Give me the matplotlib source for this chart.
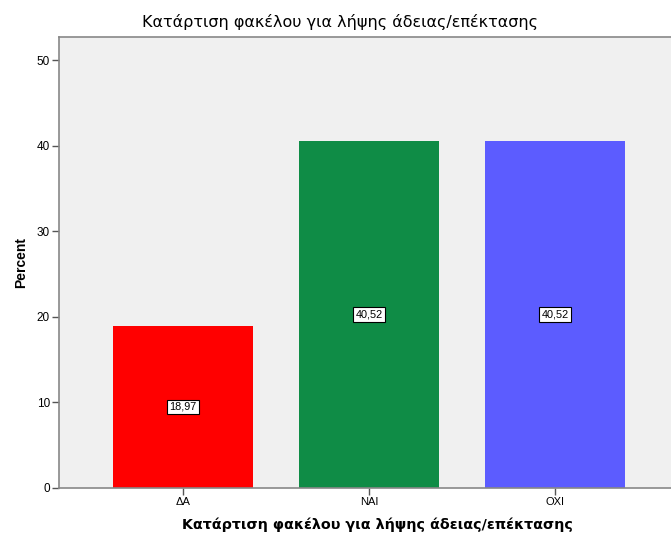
import matplotlib
matplotlib.use("Agg")
import matplotlib.pyplot as plt

categories = ["ΔΑ", "ΝΑΙ", "ΟΧΙ"]
percents = [18.97, 40.52, 40.52]
bar_colors = ["#FF0000", "#0F8C46", "#5C5CFF"]
title_text = "Κατάρτιση φακέλου για λήψης άδειας/επέκτασης"
y_ticks = [0, 10, 20, 30, 40, 50]

plt.rcParams["font.family"] = ["Liberation Sans", "DejaVu Sans"]

fig = plt.figure(figsize=(6.71, 5.38), dpi=100)
ax = fig.add_axes([0.088, 0.093, 0.912, 0.838])
ax.set_facecolor("#F0F0F0")

x = list(range(len(categories)))
ax.bar(x, percents, width=0.75, color=bar_colors, zorder=2)

for xi, v in zip(x, percents):
    ax.text(xi, v / 2, f"{v:.2f}".replace(".", ","), ha="center", va="center",
            fontsize=7.8, color="black", zorder=3,
            bbox=dict(boxstyle="square,pad=0.2", facecolor="white",
                      edgecolor="black", linewidth=0.8))

ax.set_xlim(-0.667, 2.624)
ax.set_ylim(0, 52.7)
ax.set_xticks(x)
ax.set_xticklabels(categories, fontsize=8)
ax.set_yticks(y_ticks)
ax.set_yticklabels([str(t) for t in y_ticks], fontsize=8.5)
ax.tick_params(axis="both", direction="out", length=5, width=1, color="#555555", pad=1.5)
ax.tick_params(axis="x", pad=1.5)

for side in ["left", "top", "bottom"]:
    ax.spines[side].set_color("#888888")
    ax.spines[side].set_linewidth(1.2)
ax.spines["right"].set_visible(False)

ax.set_ylabel("Percent", fontsize=10, fontweight="bold", labelpad=6)
fig.text(377 / 671, 1 - 525 / 538, title_text, ha="center", va="center",
         fontsize=10.3, fontweight="bold", family="DejaVu Sans")
fig.text(340 / 671, 1 - 22 / 538, title_text, ha="center", va="center",
         fontsize=11.5, family="DejaVu Sans")

fig.savefig("out.png", dpi=100, facecolor="white")
